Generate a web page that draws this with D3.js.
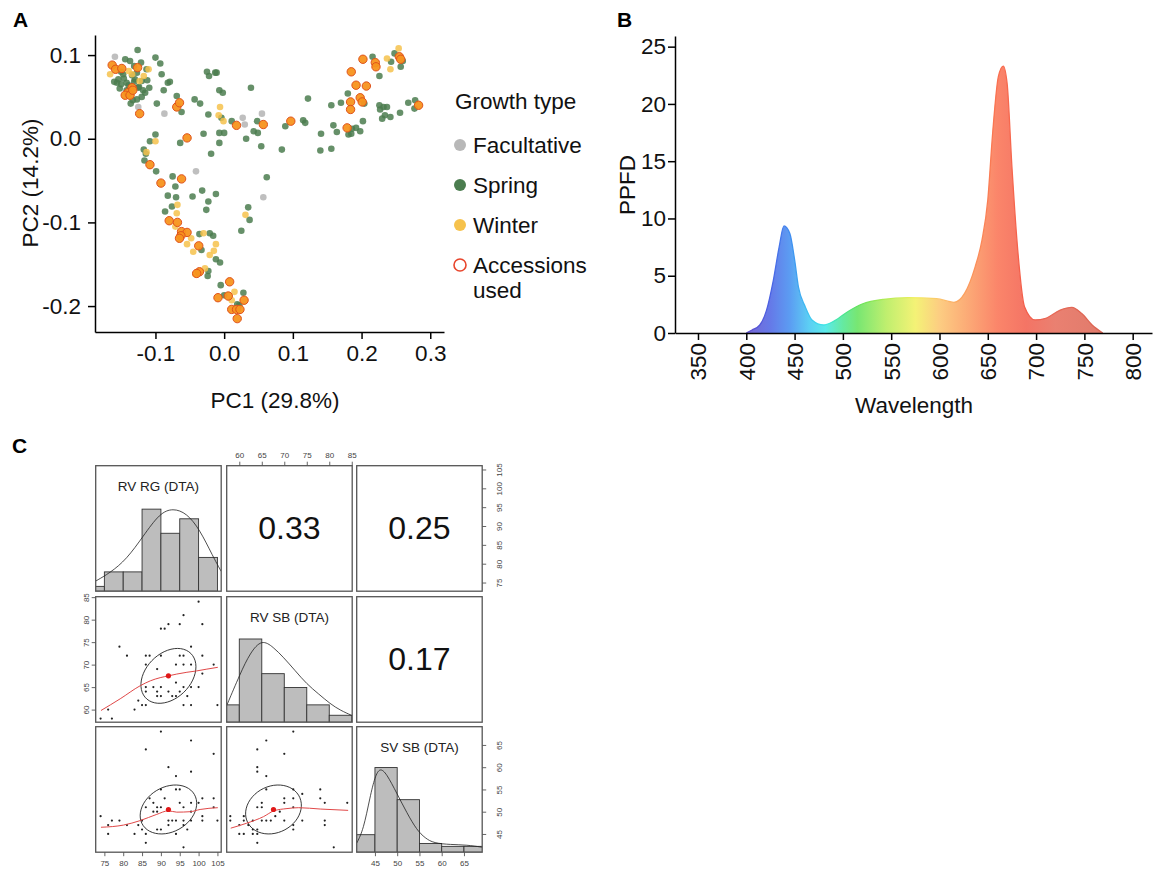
<!DOCTYPE html>
<html>
<head>
<meta charset="utf-8">
<script src="https://cdn.jsdelivr.net/npm/d3@7"></script>
<style>
  body { margin: 0; background: #fff; }
</style>
</head>
<body>
<svg id="fig" width="1154" height="870"></svg>
<script>
// ---------- Panel A: PCA ----------
var springPts = [
  [-0.126,0.106],[-0.144,0.095],[-0.137,0.093],[-0.100,0.097],[-0.093,0.090],[-0.113,0.083],
  [-0.127,0.079],[-0.134,0.076],[-0.154,0.071],[-0.150,0.065],[-0.142,0.067],[-0.130,0.071],
  [-0.120,0.069],[-0.156,0.067],[-0.147,0.077],[-0.125,0.061],[-0.115,0.055],[-0.109,0.061],
  [-0.120,0.050],[-0.127,0.047],[-0.133,0.046],[-0.091,0.077],[-0.082,0.067],[-0.079,0.068],
  [-0.088,0.058],[-0.069,0.051],[-0.098,0.042],[-0.062,0.032],[-0.043,0.047],[-0.035,0.042],
  [-0.025,0.080],[-0.022,0.075],[-0.013,0.079],[-0.011,0.079],[-0.007,0.058],[-0.002,0.055],
  [0.039,0.061],[-0.023,0.029],[-0.004,0.025],[0.011,0.021],[0.048,0.021],[0.043,0.009],
  [0.049,0.007],[-0.007,0.007],[0.000,0.007],[-0.030,0.006],[-0.064,-0.005],[-0.007,-0.005],
  [0.032,0.000],[0.054,-0.009],[-0.100,0.005],[-0.108,-0.003],[-0.117,-0.013],[-0.114,-0.018],
  [-0.116,-0.026],[-0.099,-0.039],[-0.075,-0.045],[-0.019,-0.018],[0.062,-0.046],[-0.071,-0.057],
  [-0.082,-0.068],[-0.070,-0.070],[-0.046,-0.069],[-0.032,-0.062],[-0.012,-0.066],[-0.023,-0.075],
  [-0.076,-0.081],[-0.086,-0.087],[-0.026,-0.085],[0.035,-0.082],[0.037,-0.097],[0.025,-0.110],
  [-0.036,-0.114],[-0.021,-0.113],[-0.016,-0.116],[-0.033,-0.133],[-0.012,-0.144],[-0.006,-0.148],
  [-0.023,-0.158],[-0.024,-0.164],[-0.005,-0.175],[0.000,-0.187],[0.028,-0.184],[0.019,-0.198],
  [0.022,-0.199],[0.216,0.098],[0.248,0.102],[0.243,0.092],[0.260,0.093],[0.257,0.086],
  [0.226,0.075],[0.122,0.048],[0.156,0.040],[0.170,0.043],[0.180,0.054],[0.204,0.042],
  [0.226,0.040],[0.227,0.035],[0.232,0.038],[0.237,0.038],[0.234,0.028],[0.242,0.026],
  [0.230,0.024],[0.256,0.031],[0.268,0.043],[0.278,0.046],[0.277,0.036],[0.115,0.022],
  [0.118,0.019],[0.089,0.015],[0.202,0.021],[0.159,0.016],[0.164,0.008],[0.186,0.012],
  [0.192,0.013],[0.198,0.009],[0.181,0.005],[0.185,0.006],[0.141,0.006],[0.084,-0.013],
  [0.140,-0.014],[0.156,-0.012],
  [-0.150,0.080],[-0.146,0.072],[-0.139,0.064],[-0.131,0.068],[-0.124,0.062],[-0.118,0.058],
  [-0.131,0.087],[-0.121,0.091],[-0.160,0.068],[-0.152,0.060],[-0.142,0.058],[-0.136,0.042],
  [-0.112,0.070]
];
var winterPts = [
  [-0.166,0.077],[-0.139,0.081],[-0.117,0.075],[-0.110,0.083],[-0.006,0.038],[-0.008,0.028],
  [-0.001,0.021],[-0.100,-0.003],[-0.113,-0.016],[-0.068,-0.079],[-0.069,-0.089],[-0.071,-0.105],
  [-0.048,-0.119],[-0.054,-0.126],[-0.045,-0.135],[-0.030,-0.113],[-0.012,-0.126],[-0.015,-0.134],
  [-0.021,-0.139],[-0.028,-0.155],[-0.042,-0.162],[0.015,-0.183],[0.011,-0.193],[0.031,-0.091],
  [0.254,0.108],[0.237,0.096],[0.242,0.083],[-0.134,0.077],[-0.123,0.069]
];
var facultativePts = [
  [-0.159,0.098],[-0.125,0.038],[-0.087,0.030],[-0.041,-0.039],[0.027,0.025],[0.030,0.017],
  [0.055,0.030],[0.057,-0.070]
];
var usedPts = [
  [-0.163,0.088],[-0.158,0.083],[-0.149,0.084],[-0.126,0.085],[-0.134,0.061],[-0.140,0.055],
  [-0.144,0.052],[-0.137,0.052],[-0.133,0.058],[-0.123,0.030],[-0.069,0.038],[-0.065,0.043],
  [-0.054,0.001],[0.018,0.016],[0.057,0.017],[-0.108,-0.031],[-0.092,-0.053],[-0.062,-0.048],
  [-0.080,-0.098],[-0.068,-0.100],[-0.062,-0.111],[-0.054,-0.112],[-0.063,-0.116],[-0.065,-0.119],
  [-0.037,-0.128],[-0.036,-0.159],[-0.040,-0.161],[0.008,-0.171],[0.006,-0.188],[-0.009,-0.190],
  [0.029,-0.193],[0.011,-0.204],[0.018,-0.204],[0.023,-0.204],[0.019,-0.215],[0.202,0.095],
  [0.220,0.091],[0.221,0.086],[0.255,0.098],[0.257,0.095],[0.185,0.080],[0.192,0.064],
  [0.207,0.063],[0.198,0.049],[0.201,0.044],[0.184,0.044],[0.184,0.035],[0.283,0.040],
  [0.097,0.021],[0.179,0.013]
];
var pcaXTicks = [-0.1, 0.0, 0.1, 0.2, 0.3];
var pcaYTicks = [-0.2, -0.1, 0.0, 0.1];
var legendLabels = ["Facultative", "Spring", "Winter", "Accessions"];

// ---------- Panel B: light spectrum ----------
var wavelength = [400,406,414,421,428,434,439,445,450,454,461,468,480,490,505,520,542,567,597,615,626,637,644,650,655,661,666,670,675,681,688,699,710,725,737,747,758,769];
var ppfd =       [0,0.26,0.7,2.0,4.6,7.5,9.35,8.7,6.4,4.0,2.3,1.14,0.7,1.0,1.86,2.53,2.94,3.08,3.0,2.68,3.46,5.8,8.1,11.6,17.4,22.4,23.3,21.8,14.5,7.25,2.3,1.14,1.28,2.0,2.24,1.72,0.7,0];
var specStops = [
  [405,"#5b4fd0"],[425,"#4a62e4"],[445,"#3f8bf0"],[465,"#40c6f2"],[482,"#3fe6e6"],
  [500,"#4ae690"],[515,"#60e25a"],[545,"#b4ec55"],[575,"#f2f05e"],[600,"#fcc46c"],
  [630,"#fb9a5e"],[660,"#fa7050"],[690,"#f25c4a"],[720,"#e66a58"],[765,"#dc6452"]
];
var wlTicks = [350,400,450,500,550,600,650,700,750,800];
var ppfdTicks = [0,5,10,15,20,25];

// ---------- Panel C: pairs panel ----------
var traitNames = ["RV RG (DTA)", "RV SB (DTA)", "SV SB (DTA)"];
var rgDomain = [72.7, 106.0], sbDomain = [57.2, 85.1], svDomain = [40.9, 69.1];
var rgTicks = [75,80,85,90,95,100,105], sbTicks = [60,65,70,75,80,85], svTicks = [45,50,55,60,65];
var rgBreaks = [70,75,80,85,90,95,100,105], rgCounts = [1,4,4,17,12,15,7];
var sbBreaks = [55,60,65,70,75,80,85],      sbCounts = [5,24,14,10,5,2];
var svBreaks = [40,45,50,55,60,65,70],      svCounts = [6,29,18,3,2,2];
var histTop = [26, 36.2, 43];
var rgDensity = [[72.7,2.1],[76.5,3.8],[80.9,6.6],[85.3,11.4],[89.7,16.2],[93.2,17.2],[96.8,16.2],[100.3,12.8],[103.8,7.2],[106,4.1]];
var sbDensity = [[57.2,4.8],[60.2,14],[62.4,20],[65,24],[67.6,21.6],[69.8,18.75],[72.4,14.9],[75,11],[77.6,8.2],[80.2,5.3],[82.5,3.4],[85.1,1.9]];
var svDensity = [[40.9,3.1],[42.4,7.6],[43.9,19],[45,25.9],[46.1,29],[47.6,27],[49.9,20.2],[52.2,13.4],[54.4,7.6],[56.3,4.8],[58.2,3.1],[62,2.6],[65.7,2.5],[69.1,1.7]];
var correlations = ["0.33", "0.25", "0.17"];
var rgSbPts = [[100,84],[96,81],[92,79],[95,79],[101,79],[90,78],[91,78],[79,74],[81,72],[86,72],[87,72],[90,72],[95,72],[96,72],[98,74],[101,72],[86,70],[94,70],[96,70],[98,70],[104,70],[89,69],[101,68],[94,66],[86,65],[88,65],[90,65],[96,65],[98,65],[100,65],[86,64],[89,64],[92,64],[95,64],[90,63],[89,63],[93,63],[94,63],[97,63],[84,62],[85,61],[86,61],[96,61],[98,61],[105,61],[83,60],[76,60],[74,58],[77,58]];
var rgSvPts = [[90,68],[98,66],[104,63],[86,64],[92,60],[98,59],[94,58],[90,55],[94,55],[95,55],[87,53],[88,52],[91,53],[86,51],[89,51],[90,51],[95,52],[98,52],[101,53],[104,53],[100,52],[96,51],[88,50],[89,50],[98,50],[101,49],[104,51],[74,49],[77,48],[79,48],[81,47],[84,47],[85,48],[92,48],[93,48],[94,48],[96,48],[98,48],[101,48],[105,48],[92,47],[96,47],[76,47],[89,46],[90,46],[97,46],[85,46],[76,45],[83,45],[86,45],[94,45],[86,43],[96,42]];
var sbSvPts = [[72,68],[66,66],[64,64],[70,63],[64,60],[64,59],[66,58],[66,55],[74,54],[78,55],[78,53],[79,52],[84,52],[72,55],[70,53],[72,53],[65,52],[70,52],[64,51],[65,51],[72,51],[69,50],[58,49],[61,49],[58,48],[61,48],[63,48],[65,48],[66,48],[67,48],[70,48],[74,48],[79,48],[60,47],[62,47],[68,49],[72,47],[79,47],[63,46],[64,46],[72,46],[60,45],[61,45],[63,45],[64,45],[64,43],[81,42]];
var rgSbLoess = [[74.1,59.8],[79.2,62.4],[84.5,65.3],[87.2,66.4],[89.8,67.1],[92,67.5],[94.2,67.9],[96.9,68.3],[99.5,68.6],[102.2,69],[105.1,69.4]];
var rgSvLoess = [[74.1,46.5],[80.1,47],[84.5,48],[88.9,49.4],[92,50.2],[94.2,49.9],[97.8,50],[100.4,50.5],[105.1,50.9]];
var sbSvLoess = [[58.1,46.3],[61.6,47.4],[65.4,48.9],[67.7,50.2],[70.6,50.7],[73.2,50.9],[78,50.6],[84.2,50.3]];
// ellipse: mean x, mean y, sd x, sd y, r
var rgSbEllipse = [92, 67.5, 7.3, 6.1, 0.33];
var rgSvEllipse = [92, 50.5, 7.5, 5.5, 0.25];
var sbSvEllipse = [67.6, 50.5, 6.2, 5.5, 0.17];

var FONT = '"Liberation Sans", Arial, Helvetica, sans-serif';
var svg = d3.select("#fig");

function styleAxis(g, fs, col, sw) {
  g.attr("font-family", FONT).attr("font-size", fs);
  g.select(".domain").attr("stroke", col).attr("stroke-width", sw);
  g.selectAll(".tick line").attr("stroke", col).attr("stroke-width", sw);
  g.selectAll(".tick text").attr("fill", "#111");
}

function panelLetter(txt, x, y) {
  svg.append("text").attr("x", x).attr("y", y).text(txt)
    .attr("font-family", FONT).attr("font-weight", "bold").attr("font-size", 21);
}

// ===== Panel A =====
var ax = d3.scaleLinear().domain([-0.188, 0.32]).range([95, 444]);
var ay = d3.scaleLinear().domain([-0.231, 0.124]).range([332, 35]);
var gA = svg.append("g");

function dots(data, r, fill, stroke, sw, op) {
  gA.append("g").selectAll("circle").data(data).enter().append("circle")
    .attr("cx", function(d) { return ax(d[0]); })
    .attr("cy", function(d) { return ay(d[1]); })
    .attr("r", r).attr("fill", fill).attr("fill-opacity", op)
    .attr("stroke", stroke).attr("stroke-width", sw);
}
dots(facultativePts, 3.3, "#b8b8b8", "none", 0, 0.9);
dots(springPts, 3.3, "#4b7d4f", "none", 0, 0.85);
dots(winterPts, 3.3, "#f6c24c", "none", 0, 0.85);
dots(usedPts, 4.2, "#f7931e", "#e0521c", 1, 0.95);

gA.append("g").attr("transform", "translate(0,332)")
  .call(d3.axisBottom(ax).tickValues(pcaXTicks).tickFormat(function(d) { return d.toFixed(1); })
    .tickSize(7).tickSizeOuter(0).tickPadding(6))
  .call(styleAxis, 22.5, "#000", 1.5);
gA.append("g").attr("transform", "translate(95,0)")
  .call(d3.axisLeft(ay).tickValues(pcaYTicks).tickFormat(function(d) { return d.toFixed(1); })
    .tickSize(7).tickSizeOuter(0).tickPadding(7))
  .call(styleAxis, 22.5, "#000", 1.5);

gA.append("text").attr("x", 275).attr("y", 408).attr("text-anchor", "middle")
  .attr("font-family", FONT).attr("font-size", 22.5).attr("fill", "#111").text("PC1 (29.8%)");
gA.append("text").attr("transform", "translate(38,183) rotate(-90)").attr("text-anchor", "middle")
  .attr("font-family", FONT).attr("font-size", 22.5).attr("fill", "#111").text("PC2 (14.2%)");

// legend
var legend = gA.append("g").attr("font-family", FONT).attr("font-size", 22.5).attr("fill", "#111");
legend.append("text").attr("x", 455).attr("y", 109).text("Growth type");
var legendFill = ["#b8b8b8", "#4b7d4f", "#f6c24c", "#fff"];
var legendStroke = ["none", "none", "none", "#e8452c"];
legendLabels.forEach(function(lab, i) {
  var cy = 145 + i * 40;
  legend.append("circle").attr("cx", 460).attr("cy", cy).attr("r", 6)
    .attr("fill", legendFill[i]).attr("stroke", legendStroke[i]).attr("stroke-width", 1.6);
  legend.append("text").attr("x", 473).attr("y", cy + 8).text(lab);
});
legend.append("text").attr("x", 473).attr("y", 298).text("used");

panelLetter("A", 13, 27);

// ===== Panel B =====
var bx = d3.scaleLinear().domain([326.2, 820]).range([675, 1152]);
var by = d3.scaleLinear().domain([0, 25.93]).range([333, 36]);
var gB = svg.append("g");

var grad = svg.append("defs").append("linearGradient").attr("id", "spec")
  .attr("gradientUnits", "userSpaceOnUse")
  .attr("x1", bx(specStops[0][0])).attr("x2", bx(specStops[specStops.length - 1][0]))
  .attr("y1", 0).attr("y2", 0);
var s0 = specStops[0][0], s1 = specStops[specStops.length - 1][0];
grad.selectAll("stop").data(specStops).enter().append("stop")
  .attr("offset", function(d) { return (d[0] - s0) / (s1 - s0); })
  .attr("stop-color", function(d) { return d[1]; });

var spec = wavelength.map(function(w, i) { return [w, ppfd[i]]; });
gB.append("path").datum(spec)
  .attr("d", d3.area().x(function(d) { return bx(d[0]); }).y0(by(0)).y1(function(d) { return by(d[1]); })
    .curve(d3.curveMonotoneX))
  .attr("fill", "url(#spec)").attr("fill-opacity", 0.85);
gB.append("path").datum(spec)
  .attr("d", d3.line().x(function(d) { return bx(d[0]); }).y(function(d) { return by(d[1]); })
    .curve(d3.curveMonotoneX))
  .attr("fill", "none").attr("stroke", "url(#spec)").attr("stroke-width", 1.3);

var bxAxis = gB.append("g").attr("transform", "translate(0,333)")
  .call(d3.axisBottom(bx).tickValues(wlTicks).tickSize(7).tickSizeOuter(0))
  .call(styleAxis, 22.5, "#000", 1.5);
bxAxis.selectAll(".tick text").attr("transform", "rotate(-90)")
  .attr("x", -10).attr("y", 0).attr("dy", "0.35em").attr("text-anchor", "end");
gB.append("g").attr("transform", "translate(675,0)")
  .call(d3.axisLeft(by).tickValues(ppfdTicks).tickSize(7).tickSizeOuter(0).tickPadding(2))
  .call(styleAxis, 22.5, "#000", 1.5);

gB.append("text").attr("x", 914).attr("y", 413).attr("text-anchor", "middle")
  .attr("font-family", FONT).attr("font-size", 22.5).attr("fill", "#111").text("Wavelength");
gB.append("text").attr("transform", "translate(635,185) rotate(-90)").attr("text-anchor", "middle")
  .attr("font-family", FONT).attr("font-size", 22.5).attr("fill", "#111").text("PPFD");

panelLetter("B", 617, 27);

// ===== Panel C =====
var cols = [95.7, 226.7, 356.7], rows = [465.7, 596.7, 726.7], S = 125.5;
var doms = [rgDomain, sbDomain, svDomain];
var breaks = [rgBreaks, sbBreaks, svBreaks];
var counts = [rgCounts, sbCounts, svCounts];
var dens = [rgDensity, sbDensity, svDensity];
var xsc = doms.map(function(d, i) { return d3.scaleLinear().domain(d).range([cols[i], cols[i] + S]); });
var ysc = doms.map(function(d, i) { return d3.scaleLinear().domain(d).range([rows[i] + S, rows[i]]); });
var gC = svg.append("g");
var defs = svg.select("defs");

function cellClip(r, c) {
  var id = "clip" + r + c;
  defs.append("clipPath").attr("id", id).append("rect")
    .attr("x", cols[c]).attr("y", rows[r]).attr("width", S).attr("height", S);
  return gC.append("g").attr("clip-path", "url(#" + id + ")");
}

// diagonal histograms
[0, 1, 2].forEach(function(i) {
  var g = cellClip(i, i);
  var yc = d3.scaleLinear().domain([0, histTop[i]]).range([rows[i] + S, rows[i]]);
  var bars = counts[i].map(function(c, k) { return [breaks[i][k], breaks[i][k + 1], c]; });
  g.selectAll("rect").data(bars).enter().append("rect")
    .attr("x", function(d) { return xsc[i](d[0]); })
    .attr("width", function(d) { return xsc[i](d[1]) - xsc[i](d[0]); })
    .attr("y", function(d) { return yc(d[2]); })
    .attr("height", function(d) { return yc(0) - yc(d[2]); })
    .attr("fill", "#bdbdbd").attr("stroke", "#333").attr("stroke-width", 0.9);
  g.append("path").datum(dens[i])
    .attr("d", d3.line().x(function(d) { return xsc[i](d[0]); }).y(function(d) { return yc(d[1]); })
      .curve(d3.curveBasis))
    .attr("fill", "none").attr("stroke", "#222").attr("stroke-width", 0.8);
  gC.append("text").attr("x", cols[i] + S / 2).attr("y", rows[i] + 25).attr("text-anchor", "middle")
    .attr("font-family", FONT).attr("font-size", 13.5).attr("fill", "#222").text(traitNames[i]);
});

// correlation cells
[[0, 1], [0, 2], [1, 2]].forEach(function(rc, k) {
  gC.append("text").attr("x", cols[rc[1]] + S / 2).attr("y", rows[rc[0]] + S / 2 + 11)
    .attr("text-anchor", "middle").attr("font-family", FONT).attr("font-size", 32)
    .attr("fill", "#111").text(correlations[k]);
});

// scatter cells
function ellipsePts(e) {
  var r = e[4], th = (r >= 0 ? 1 : -1) / Math.sqrt(2);
  var a = Math.sqrt(1 + r), b = Math.sqrt(1 - r);
  return d3.range(0, 52).map(function(k) {
    var t = k * 2 * Math.PI / 51, c = Math.cos(t), s = Math.sin(t);
    return [(c * a * th - s * b * th) * e[2] + e[0], (c * a * th + s * b * th) * e[3] + e[1]];
  });
}
[[1, 0, rgSbPts, rgSbLoess, rgSbEllipse], [2, 0, rgSvPts, rgSvLoess, rgSvEllipse],
 [2, 1, sbSvPts, sbSvLoess, sbSvEllipse]].forEach(function(cell) {
  var r = cell[0], c = cell[1], X = xsc[c], Y = ysc[r];
  var g = cellClip(r, c);
  g.selectAll("circle.pt").data(cell[2]).enter().append("circle").attr("class", "pt")
    .attr("cx", function(d) { return X(d[0]); }).attr("cy", function(d) { return Y(d[1]); })
    .attr("r", 1.1).attr("fill", "#222");
  var line = d3.line().x(function(d) { return X(d[0]); }).y(function(d) { return Y(d[1]); });
  g.append("path").datum(ellipsePts(cell[4])).attr("d", line.curve(d3.curveLinearClosed))
    .attr("fill", "none").attr("stroke", "#222").attr("stroke-width", 0.9);
  g.append("path").datum(cell[3]).attr("d", d3.line().x(function(d) { return X(d[0]); })
      .y(function(d) { return Y(d[1]); }).curve(d3.curveMonotoneX))
    .attr("fill", "none").attr("stroke", "#e04848").attr("stroke-width", 1);
  g.append("circle").attr("cx", X(cell[4][0])).attr("cy", Y(cell[4][1])).attr("r", 2.6).attr("fill", "#e01818");
});

// panel frames
for (var r = 0; r < 3; r++) {
  for (var c = 0; c < 3; c++) {
    gC.append("rect").attr("x", cols[c]).attr("y", rows[r]).attr("width", S).attr("height", S)
      .attr("fill", "none").attr("stroke", "#555").attr("stroke-width", 1.3);
  }
}

// outer axes
function smallAxis(axis, tr, rotate, off) {
  var g = gC.append("g").attr("transform", tr)
    .call(axis.tickSize(4).tickSizeOuter(0).tickPadding(4))
    .call(styleAxis, 8, "#555", 0.9);
  g.select(".domain").remove();
  g.selectAll(".tick text").attr("fill", "#444");
  if (rotate) {
    g.selectAll(".tick text").attr("transform", "rotate(-90)")
      .attr("x", 0).attr("y", off).attr("dy", 0).attr("text-anchor", "middle");
  }
}
smallAxis(d3.axisTop(xsc[1]).tickValues(sbTicks), "translate(0," + rows[0] + ")", false);
smallAxis(d3.axisRight(ysc[0]).tickValues(rgTicks), "translate(" + (cols[2] + S) + ",0)", true, 20);
smallAxis(d3.axisLeft(ysc[1]).tickValues(sbTicks), "translate(" + cols[0] + ",0)", true, -7);
smallAxis(d3.axisBottom(xsc[0]).tickValues(rgTicks), "translate(0," + (rows[2] + S) + ")", false);
smallAxis(d3.axisBottom(xsc[2]).tickValues(svTicks), "translate(0," + (rows[2] + S) + ")", false);
smallAxis(d3.axisRight(ysc[2]).tickValues(svTicks), "translate(" + (cols[2] + S) + ",0)", true, 20);

panelLetter("C", 12, 453);
</script>
</body>
</html>
